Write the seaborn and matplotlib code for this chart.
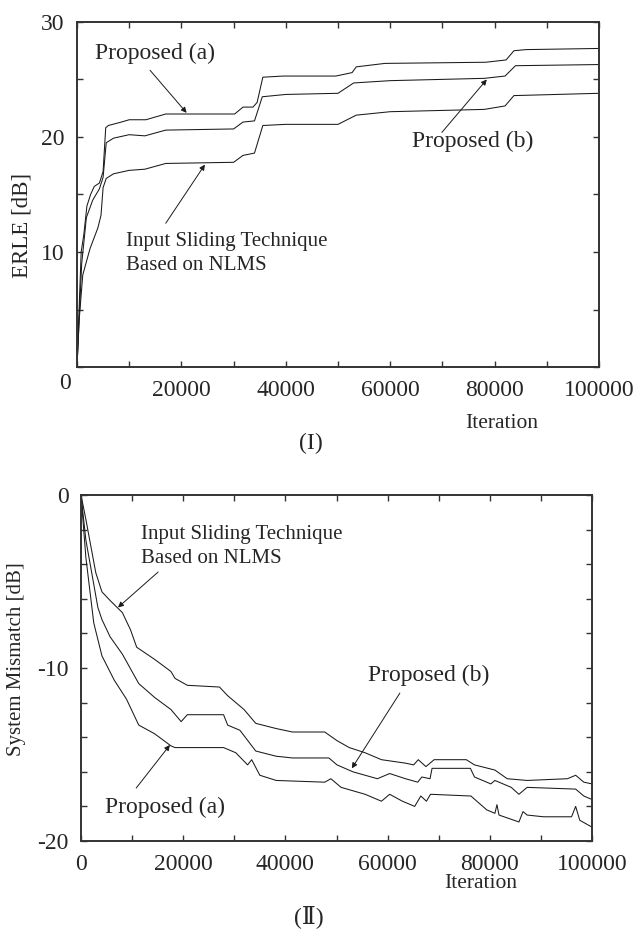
import matplotlib
matplotlib.use('Agg')
import matplotlib.pyplot as plt
from matplotlib.ticker import MultipleLocator, FixedLocator
import numpy as np
import pandas as pd
import seaborn as sns

# ---- (I) ERLE curves ----
erle_iter_a = [0, 400, 800, 1300, 1900, 2600, 3300, 4300, 5000, 5500, 6000, 8500, 10000, 13200, 17000,
               30200, 31800, 33700, 34500, 35600, 39500, 49600, 52700, 53500, 59000, 78300, 82200,
               83700, 86000, 100000]
erle_a = [0, 5, 10, 11.5, 14, 15, 15.7, 16, 17, 20.8, 21, 21.3, 21.5, 21.5, 22.0,
          22.0, 22.6, 22.6, 23.0, 25.2, 25.3, 25.3, 25.6, 26.1, 26.4, 26.5, 26.7,
          27.5, 27.6, 27.7]

erle_iter_b = [0, 400, 900, 1800, 3000, 4300, 5000, 5600, 7000, 10000, 13000, 17000, 30000, 31800,
               34000, 35500, 40000, 50000, 53000, 60000, 78000, 82000, 84000, 100000]
erle_b = [0, 4, 9, 13, 14.5, 15.5, 16.5, 19.5, 19.9, 20.2, 20.1, 20.6, 20.7, 21.3,
          21.4, 23.5, 23.7, 23.8, 24.7, 24.9, 25.1, 25.3, 26.2, 26.3]

erle_iter_is = [0, 400, 1100, 2500, 4000, 4600, 5000, 5600, 7000, 10000, 13000, 17000, 30000, 31800,
                34000, 35600, 40000, 50000, 53500, 60000, 78000, 82000, 83700, 100000]
erle_is = [0, 4, 8, 10.3, 12.1, 13.2, 15.6, 16.4, 16.8, 17.1, 17.2, 17.7, 17.8, 18.4,
           18.6, 21.0, 21.1, 21.1, 21.9, 22.2, 22.4, 22.7, 23.6, 23.8]

# ---- (II) System mismatch curves ----
sm_iter_is = [0, 950, 1700, 2900, 4100, 5700, 8100, 9700, 10900, 14400, 17600, 18400, 20800, 27100,
              28700, 31900, 34200, 38200, 41400, 47700, 50100, 52500, 55600, 58800, 63500, 65100,
              66000, 67500, 69100, 75400, 77000, 81000, 83400, 87300, 95200, 96800, 98400, 100000]
sm_is = [0, -1.4, -2.6, -4.5, -5.6, -6.1, -6.8, -7.8, -8.8, -9.5, -10.2, -10.6, -11.0, -11.1,
         -11.6, -12.4, -13.2, -13.5, -13.7, -13.7, -14.2, -14.6, -14.9, -15.3, -15.5, -15.6,
         -15.3, -15.7, -15.3, -15.3, -15.6, -15.9, -16.4, -16.5, -16.4, -16.2, -16.6, -16.7]

sm_iter_b = [0, 950, 2100, 3300, 4100, 5700, 8100, 11300, 14400, 17600, 19600, 20800, 27900, 28700,
             31100, 34200, 38200, 41400, 48500, 50100, 53200, 58000, 60400, 63500, 65900, 66700,
             68300, 68700, 76200, 77000, 80200, 81000, 84200, 85700, 87300, 96800, 98400, 100000]
sm_b = [0, -2.6, -4.5, -6.5, -7.2, -8.2, -9.2, -10.9, -11.7, -12.4, -13.1, -12.7, -12.7, -13.3,
        -13.6, -14.8, -15.1, -15.2, -15.2, -15.6, -16.0, -16.4, -16.1, -16.4, -16.6, -16.3,
        -16.4, -15.8, -15.8, -16.3, -16.7, -16.5, -16.9, -17.3, -16.9, -17.0, -17.4, -17.6]

sm_iter_a = [0, 950, 2500, 4100, 6500, 8900, 11300, 14400, 17600, 18400, 20800, 27900, 30300, 32600,
             33400, 35000, 38200, 47700, 48900, 50900, 55600, 58800, 60400, 62900, 65300, 66500,
             67600, 68400, 76300, 79400, 81000, 81400, 81800, 85700, 86500, 87300, 90500, 96000,
             96800, 97600, 100000]
sm_a = [0, -3.6, -7.4, -9.3, -10.7, -11.8, -13.3, -13.8, -14.5, -14.6, -14.6, -14.6, -14.9, -15.6,
        -15.3, -16.2, -16.5, -16.6, -16.4, -16.9, -17.3, -17.7, -17.3, -17.7, -18.0, -17.4,
        -17.7, -17.3, -17.4, -18.2, -18.4, -17.9, -18.5, -18.9, -18.3, -18.5, -18.6, -18.6,
        -18.0, -18.8, -19.2]

sns.set_style('ticks')
plt.rcParams['font.family'] = ['Liberation Serif', 'DejaVu Serif']
plt.rcParams['axes.unicode_minus'] = False

W, H = 635, 930
fig = plt.figure(figsize=(W / 100, H / 100), dpi=100)

line_kw = dict(color='#1a1a1a', linewidth=0.75)
arrow_kw = dict(arrowstyle='-|>', color='#1a1a1a', lw=0.7, mutation_scale=8, shrinkA=0, shrinkB=0)


def style_axes(ax):
    for s in ax.spines.values():
        s.set_color('#333333')
        s.set_linewidth(1.4)
    ax.tick_params(which='both', direction='in', top=True, right=True, color='#333333',
                   labelsize=17, pad=9)
    ax.tick_params(which='major', length=4, width=1)
    ax.tick_params(which='minor', length=4, width=1)


def fpos(x, y):
    return x / W, 1 - y / H


# ---- top panel ----
ax1 = fig.add_axes([77 / W, 1 - 367 / H, (599 - 77) / W, (367 - 22) / H])
for xs, ys in [(erle_iter_a, erle_a), (erle_iter_b, erle_b), (erle_iter_is, erle_is)]:
    sns.lineplot(x=xs, y=ys, ax=ax1, **line_kw)
ax1.set_xlim(0, 100000)
ax1.set_ylim(0, 30)
ax1.xaxis.set_major_locator(FixedLocator([20000, 40000, 60000, 80000, 100000]))
ax1.xaxis.set_minor_locator(MultipleLocator(10000))
ax1.yaxis.set_major_locator(FixedLocator([10, 20, 30]))
ax1.yaxis.set_minor_locator(MultipleLocator(5))
style_axes(ax1)
ax1.text(-2300, -1.4, '0', fontsize=17, ha='center', va='center', clip_on=False)

ax1.annotate('', xy=(21000, 22.1), xytext=(14000, 25.8), arrowprops=arrow_kw)
ax1.text(3500, 27.3, 'Proposed (a)', fontsize=17, ha='left', va='center')
ax1.annotate('', xy=(78500, 25.0), xytext=(69900, 20.4), arrowprops=arrow_kw)
ax1.text(64200, 19.6, 'Proposed (b)', fontsize=17, ha='left', va='center')
ax1.annotate('', xy=(24500, 17.6), xytext=(17000, 12.5), arrowprops=arrow_kw)
ax1.text(9400, 9.87, 'Input Sliding Technique\nBased on NLMS', fontsize=15,
         ha='left', va='center', linespacing=1.3)

fig.text(*fpos(22, 225), 'ERLE [dB]', rotation=90, fontsize=16.5, ha='center', va='center')
fig.text(*fpos(502, 423), 'Iteration', fontsize=15.5, ha='center', va='center')
fig.text(*fpos(311, 443), '(I)', fontsize=17, ha='center', va='center')

# ---- bottom panel ----
ax2 = fig.add_axes([81 / W, 1 - 841 / H, (592 - 81) / W, (841 - 495) / H])
for xs, ys in [(sm_iter_is, sm_is), (sm_iter_b, sm_b), (sm_iter_a, sm_a)]:
    sns.lineplot(x=xs, y=ys, ax=ax2, **line_kw)
ax2.set_xlim(0, 100000)
ax2.set_ylim(-20, 0)
ax2.xaxis.set_major_locator(MultipleLocator(20000))
ax2.xaxis.set_minor_locator(MultipleLocator(10000))
ax2.yaxis.set_major_locator(MultipleLocator(10))
ax2.yaxis.set_minor_locator(MultipleLocator(2))
style_axes(ax2)

ax2.annotate('', xy=(7240, -6.5), xytext=(15100, -4.45), arrowprops=arrow_kw)
ax2.text(11700, -2.98, 'Input Sliding Technique\nBased on NLMS', fontsize=15,
         ha='left', va='center', linespacing=1.3)
ax2.annotate('', xy=(53000, -15.8), xytext=(62400, -11.45), arrowprops=arrow_kw)
ax2.text(56200, -10.4, 'Proposed (b)', fontsize=17, ha='left', va='center')
ax2.annotate('', xy=(17400, -14.45), xytext=(10800, -16.94), arrowprops=arrow_kw)
ax2.text(4700, -18.03, 'Proposed (a)', fontsize=17, ha='left', va='center')

fig.text(*fpos(17, 659), 'System Mismatch [dB]', rotation=90, fontsize=15, ha='center', va='center')
fig.text(*fpos(481, 883), 'Iteration', fontsize=15.5, ha='center', va='center')
fig.text(*fpos(309, 917), '(Ⅱ)', fontsize=17, ha='center', va='center')

fig.savefig('out.png', dpi=100)
